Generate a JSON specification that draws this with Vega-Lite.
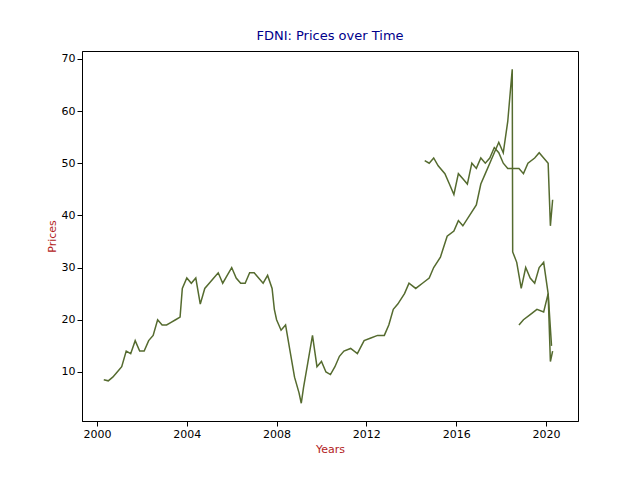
{
  "$schema": "https://vega.github.io/schema/vega-lite/v6.json",
  "width": 496,
  "height": 370,
  "padding": {"left": 46, "top": 30, "right": 58, "bottom": 14},
  "config": {"background": "white", "font": "DejaVu Sans", "view": {"stroke": "black"},
    "axis": {"grid": false, "domainColor": "black", "tickColor": "black", "labelColor": "black", "labelFontSize": 11, "titleFontSize": 11, "titleFontWeight": "normal", "titleColor": "#B22222"}},
  "title": {"text": "FDNI: Prices over Time", "color": "#00008B", "fontSize": 13, "fontWeight": "normal", "offset": 8},
  "data": {"values": [
    {"s":"a","t":2000.3,"p":8.5},{"s":"a","t":2000.5,"p":8.3},{"s":"a","t":2000.7,"p":9},{"s":"a","t":2000.9,"p":10},{"s":"a","t":2001.1,"p":11},{"s":"a","t":2001.3,"p":14},{"s":"a","t":2001.5,"p":13.5},{"s":"a","t":2001.7,"p":16},{"s":"a","t":2001.9,"p":14},{"s":"a","t":2002.1,"p":14},{"s":"a","t":2002.3,"p":16},{"s":"a","t":2002.5,"p":17},{"s":"a","t":2002.7,"p":20},{"s":"a","t":2002.9,"p":19},{"s":"a","t":2003.1,"p":19},{"s":"a","t":2003.3,"p":19.5},{"s":"a","t":2003.5,"p":20},{"s":"a","t":2003.7,"p":20.5},{"s":"a","t":2003.8,"p":26},{"s":"a","t":2004.0,"p":28},{"s":"a","t":2004.2,"p":27},{"s":"a","t":2004.4,"p":28},{"s":"a","t":2004.6,"p":23},{"s":"a","t":2004.8,"p":26},{"s":"a","t":2005.0,"p":27},{"s":"a","t":2005.2,"p":28},{"s":"a","t":2005.4,"p":29},{"s":"a","t":2005.6,"p":27},{"s":"a","t":2005.8,"p":28.5},{"s":"a","t":2006.0,"p":30},{"s":"a","t":2006.2,"p":28},{"s":"a","t":2006.4,"p":27},{"s":"a","t":2006.6,"p":27},{"s":"a","t":2006.8,"p":29},{"s":"a","t":2007.0,"p":29},{"s":"a","t":2007.2,"p":28},{"s":"a","t":2007.4,"p":27},{"s":"a","t":2007.6,"p":28.5},{"s":"a","t":2007.8,"p":26},{"s":"a","t":2007.9,"p":22},{"s":"a","t":2008.0,"p":20},{"s":"a","t":2008.2,"p":18},{"s":"a","t":2008.4,"p":19},{"s":"a","t":2008.6,"p":14},{"s":"a","t":2008.8,"p":9},{"s":"a","t":2009.0,"p":6},{"s":"a","t":2009.1,"p":4},{"s":"a","t":2009.2,"p":7},{"s":"a","t":2009.4,"p":12},{"s":"a","t":2009.6,"p":17},{"s":"a","t":2009.7,"p":14},{"s":"a","t":2009.8,"p":11},{"s":"a","t":2010.0,"p":12},{"s":"a","t":2010.2,"p":10},{"s":"a","t":2010.4,"p":9.5},{"s":"a","t":2010.6,"p":11},{"s":"a","t":2010.8,"p":13},{"s":"a","t":2011.0,"p":14},{"s":"a","t":2011.3,"p":14.5},{"s":"a","t":2011.6,"p":13.5},{"s":"a","t":2011.9,"p":16},{"s":"a","t":2012.2,"p":16.5},{"s":"a","t":2012.5,"p":17},{"s":"a","t":2012.8,"p":17},{"s":"a","t":2013.0,"p":19},{"s":"a","t":2013.2,"p":22},{"s":"a","t":2013.4,"p":23},{"s":"a","t":2013.7,"p":25},{"s":"a","t":2013.9,"p":27},{"s":"a","t":2014.2,"p":26},{"s":"a","t":2014.5,"p":27},{"s":"a","t":2014.8,"p":28},{"s":"a","t":2015.0,"p":30},{"s":"a","t":2015.3,"p":32},{"s":"a","t":2015.6,"p":36},{"s":"a","t":2015.9,"p":37},{"s":"a","t":2016.1,"p":39},{"s":"a","t":2016.3,"p":38},{"s":"a","t":2016.6,"p":40},{"s":"a","t":2016.9,"p":42},{"s":"a","t":2017.1,"p":46},{"s":"a","t":2017.3,"p":48},{"s":"a","t":2017.5,"p":50},{"s":"a","t":2017.7,"p":52},{"s":"a","t":2017.9,"p":54},{"s":"a","t":2018.1,"p":52},{"s":"a","t":2018.3,"p":58},{"s":"a","t":2018.5,"p":68},{"s":"a","t":2018.52,"p":33},{"s":"a","t":2018.7,"p":31},{"s":"a","t":2018.9,"p":26},{"s":"a","t":2019.1,"p":30},{"s":"a","t":2019.3,"p":28},{"s":"a","t":2019.5,"p":27},{"s":"a","t":2019.7,"p":30},{"s":"a","t":2019.9,"p":31},{"s":"a","t":2020.1,"p":25},{"s":"a","t":2020.2,"p":12},{"s":"a","t":2020.3,"p":14},
    {"s":"b","t":2014.6,"p":50.5},{"s":"b","t":2014.8,"p":50},{"s":"b","t":2015.0,"p":51},{"s":"b","t":2015.2,"p":49.5},{"s":"b","t":2015.5,"p":48},{"s":"b","t":2015.7,"p":46},{"s":"b","t":2015.9,"p":44},{"s":"b","t":2016.1,"p":48},{"s":"b","t":2016.3,"p":47},{"s":"b","t":2016.5,"p":46},{"s":"b","t":2016.7,"p":50},{"s":"b","t":2016.9,"p":49},{"s":"b","t":2017.1,"p":51},{"s":"b","t":2017.3,"p":50},{"s":"b","t":2017.5,"p":51},{"s":"b","t":2017.7,"p":53},{"s":"b","t":2017.9,"p":52},{"s":"b","t":2018.1,"p":50},{"s":"b","t":2018.3,"p":49},{"s":"b","t":2018.5,"p":49},{"s":"b","t":2018.8,"p":49},{"s":"b","t":2019.0,"p":48},{"s":"b","t":2019.2,"p":50},{"s":"b","t":2019.5,"p":51},{"s":"b","t":2019.7,"p":52},{"s":"b","t":2019.9,"p":51},{"s":"b","t":2020.1,"p":50},{"s":"b","t":2020.2,"p":38},{"s":"b","t":2020.3,"p":43},
    {"s":"c","t":2018.8,"p":19},{"s":"c","t":2019.0,"p":20},{"s":"c","t":2019.3,"p":21},{"s":"c","t":2019.6,"p":22},{"s":"c","t":2019.9,"p":21.5},{"s":"c","t":2020.1,"p":25},{"s":"c","t":2020.25,"p":15}
  ]},
  "mark": {"type": "line", "color": "#556B2F", "strokeWidth": 1.5},
  "encoding": {
    "x": {"field": "t", "type": "quantitative", "title": "Years", "scale": {"domain": [1999.33, 2021.43], "nice": false, "zero": false},
      "axis": {"values": [2000, 2004, 2008, 2012, 2016, 2020], "format": "d"}},
    "y": {"field": "p", "type": "quantitative", "title": "Prices", "scale": {"domain": [0.6, 71.5], "nice": false, "zero": false},
      "axis": {"values": [10, 20, 30, 40, 50, 60, 70]}},
    "detail": {"field": "s"},
    "order": {"field": "t"}
  }
}
